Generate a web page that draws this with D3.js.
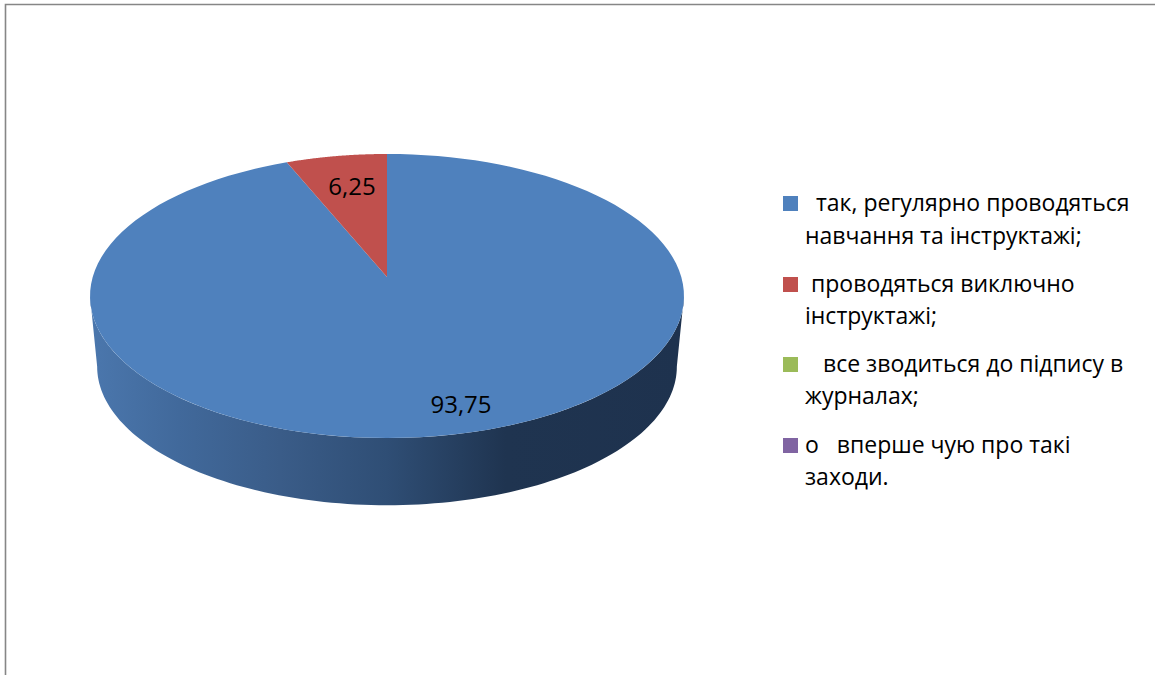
<!DOCTYPE html>
<html><head><meta charset="utf-8">
<script src="https://cdn.jsdelivr.net/npm/d3@7"></script>
<style>html,body{margin:0;padding:0;background:#fff}svg{display:block}text{font-family:"Open Sans",sans-serif;fill:#000}</style>
</head><body><svg id="c" width="1155" height="675"></svg>
<script>
const categories = ["так, регулярно проводяться", "проводяться виключно", "все зводиться до підпису в", "о   вперше чую про такі"];
const categoryLine2 = ["навчання та інструктажі;", "інструктажі;", "журналах;", "заходи."];
const values = [93.75, 6.25, 0, 0];
const valueLabels = ["93,75", "6,25", "", ""];
const colors = ["#4f81bd", "#c0504d", "#9bbb59", "#8064a2"];

const svg = d3.select("#c");
svg.append("path").attr("d","M5.5 675V4.5H1155").attr("fill","none").attr("stroke","#868686").attr("stroke-width",1.6);

// Perspective view of the circular pie
const persp = {cx:387, cy:277, a:294.3, b:139.5, k:-0.134};
const project = (ang, s=1, dy=0) => {
  const u=Math.sin(ang), v=-Math.cos(ang), w=1+persp.k*v;
  return [persp.cx + s*persp.a*u/w, persp.cy + dy + s*persp.b*v/w];
};
const pie = d3.pie().sort(null).value(d=>d);
const arcs = pie(values);
const line = d3.line();
const angles = (a0,a1) => d3.range(0,121).map(i => a0+(a1-a0)*i/120);

const defs = svg.append("defs");
const grad = defs.append("linearGradient").attr("id","side").attr("gradientUnits","userSpaceOnUse")
  .attr("x1",90).attr("x2",684).attr("y1",0).attr("y2",0);
[[0,"#4b77ad"],[0.15,"#41699b"],[0.32,"#3a5c88"],[0.5,"#2f4e75"],[0.7,"#1f3450"],[1,"#1e324e"]]
  .forEach(([o,c]) => grad.append("stop").attr("offset",o).attr("stop-color",c));

const nearA = Math.PI - Math.acos(-persp.k), farA = 2*Math.PI - nearA;   // silhouette of the disc
const gS = svg.append("g");
arcs.forEach(d => {
  const a0=Math.max(d.startAngle,nearA), a1=Math.min(d.endAngle,farA);
  if (a1<=a0) return;
  const top=angles(a0,a1).map(a=>project(a));
  const bot=angles(a1,a0).map(a=>project(a,0.976,71));
  gS.append("path").attr("d",line(top.concat(bot))+"Z").attr("fill","url(#side)");
});
const gT = svg.append("g");
arcs.forEach((d,i) => {
  if (d.endAngle===d.startAngle) return;
  const pts=[[persp.cx,persp.cy]].concat(angles(d.startAngle,d.endAngle).map(a=>project(a)));
  gT.append("path").attr("d",line(pts)+"Z").attr("fill",colors[i]);
});

// data labels
const labelPos = [[461,413],[352,195]];
labelPos.forEach((p,i) => svg.append("text").attr("x",p[0]).attr("y",p[1]).attr("text-anchor","middle")
  .attr("font-size",24).text(valueLabels[i]));

// legend
const legendY = [196,277,357,438];
const indent = [816,811,823,805];
const line2Y = [244,324,404,485];
categories.forEach((c,i) => {
  svg.append("rect").attr("x",783).attr("y",legendY[i]).attr("width",15).attr("height",15).attr("fill",colors[i]);
  svg.append("text").attr("x",indent[i]).attr("y",legendY[i]+15).attr("font-size",23).style("white-space","pre").text(c);
  svg.append("text").attr("x",805).attr("y",line2Y[i]).attr("font-size",23).text(categoryLine2[i]);
});
</script></body></html>
